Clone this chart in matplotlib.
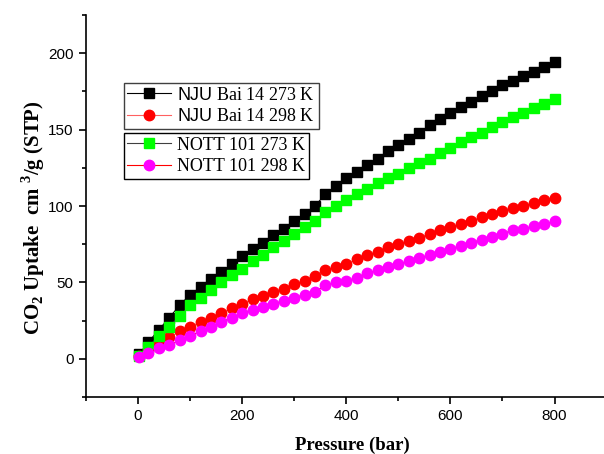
import numpy as np
import matplotlib
matplotlib.use("Agg")
import matplotlib.pyplot as plt

# data
pressure = [2, 20, 40, 60, 80, 100, 120, 140, 160, 180, 200, 220, 240, 260, 280,
            300, 320, 340, 360, 380, 400, 420, 440, 460, 480, 500, 520, 540, 560,
            580, 600, 620, 640, 660, 680, 700, 720, 740, 760, 780, 800]

nju_273 = [3, 11, 19, 27, 35, 42, 47, 52, 57, 62, 67, 72, 76, 81, 85,
           90, 95, 100, 108, 113, 118, 122, 127, 131, 136, 140, 144, 148, 153,
           157, 161, 165, 168, 172, 175, 179, 182, 185, 188, 191, 194]
nju_298 = [2, 6, 10, 14, 18, 21, 24, 27, 30, 33, 36, 39, 41, 44, 46,
           49, 51, 54, 58, 60, 62, 65, 68, 70, 73, 75, 77, 79, 82,
           84, 86, 88, 90, 93, 95, 97, 99, 100, 102, 104, 105]
nott_273 = [2, 8, 15, 21, 28, 35, 40, 45, 50, 55, 59, 64, 68, 73, 77,
            82, 86, 90, 96, 100, 104, 108, 111, 115, 118, 121, 125, 128, 131,
            135, 138, 142, 145, 148, 152, 155, 158, 161, 164, 167, 170]
nott_298 = [1, 4, 7, 9, 12, 15, 18, 21, 24, 27, 30, 32, 34, 36, 38,
            40, 42, 44, 48, 50, 51, 53, 56, 58, 60, 62, 64, 66, 68,
            70, 72, 74, 76, 78, 80, 82, 84, 85, 87, 88, 90]

plt.rcParams['mathtext.fontset'] = 'custom'
plt.rcParams['mathtext.rm'] = 'Liberation Serif'
plt.rcParams['mathtext.bf'] = 'Liberation Serif:bold'
plt.rcParams['mathtext.sf'] = 'Liberation Sans'

fig = plt.figure(figsize=(6.04, 4.54), dpi=100)
ax = fig.add_axes([86 / 604, 57 / 454, 518 / 604, 382 / 454])

h1, = ax.plot(pressure, nju_273, marker='s', ms=7, color='black', mfc='black', mec='black',
              lw=0.8, label=r'$\mathsf{NJU}$ Bai 14 273 K')
h2, = ax.plot(pressure, nju_298, marker='o', ms=7.5, color='#ff6060', mfc='red', mec='red',
              lw=0.8, label=r'$\mathsf{NJU}$ Bai 14 298 K')
h3, = ax.plot(pressure, nott_273, marker='s', ms=7, color='#404040', mfc='#00ff00', mec='#00ff00',
              lw=0.8, label='NOTT 101 273 K')
h4, = ax.plot(pressure, nott_298, marker='o', ms=7.5, color='red', mfc='#ff00ff', mec='#ff00ff',
              lw=0.8, label='NOTT 101 298 K')

ax.set_xlim(-100, 895)
ax.set_ylim(-25, 225)
ax.set_xticks([0, 200, 400, 600, 800])
ax.set_xticks([-100, 100, 300, 500, 700], minor=True)
ax.set_yticks([0, 50, 100, 150, 200])
ax.set_yticks([-25, 25, 75, 125, 175, 225], minor=True)

for s in ['top', 'right']:
    ax.spines[s].set_visible(False)
for s in ['left', 'bottom']:
    ax.spines[s].set_linewidth(1.2)
ax.tick_params(which='major', direction='out', length=5, width=1.2, labelsize=11, pad=4)
ax.tick_params(which='minor', direction='out', length=3, width=1.2)
for lab in ax.get_xticklabels() + ax.get_yticklabels():
    lab.set_fontfamily('Liberation Sans')

ax.set_xlabel('Pressure (bar)', fontfamily='Liberation Serif', fontweight='bold', fontsize=13.5)
ax.set_ylabel(r'CO$_\mathbf{2}$ Uptake  cm $^\mathbf{3}$/g (STP)',
              fontfamily='Liberation Serif', fontweight='bold', fontsize=15)
ax.xaxis.set_label_coords(0.515, -0.105)
ax.yaxis.set_label_coords(-0.075, 0.47)

leg_font = {'family': 'Liberation Serif', 'size': 13}
leg1 = ax.legend(handles=[h1, h2], loc='upper left', bbox_to_anchor=(0.073, 0.822),
                 borderaxespad=0, prop=leg_font, fancybox=False, framealpha=1,
                 edgecolor='#404040', handlelength=2.4, handletextpad=0.35,
                 labelspacing=0.25, borderpad=0.2)
leg1.get_frame().set_linewidth(1.0)
ax.add_artist(leg1)
leg2 = ax.legend(handles=[h3, h4], loc='upper left', bbox_to_anchor=(0.073, 0.691),
                 borderaxespad=0, prop=leg_font, fancybox=False, framealpha=1,
                 edgecolor='black', handlelength=2.4, handletextpad=0.35,
                 labelspacing=0.25, borderpad=0.2)
leg2.get_frame().set_linewidth(1.0)

fig.savefig('out.png', dpi=100)
